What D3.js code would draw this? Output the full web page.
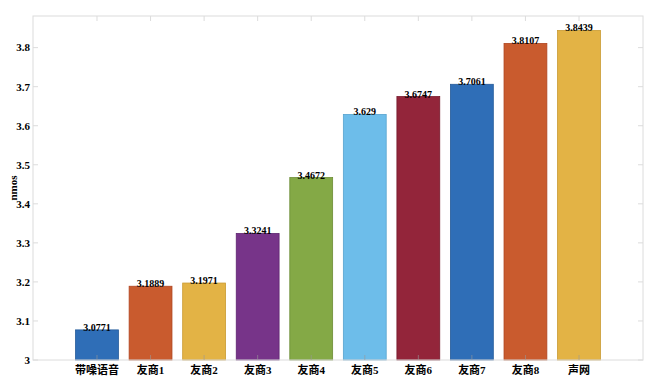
<html>
<head>
<script src="https://d3js.org/d3.v7.min.js"></script>
<style>
  body { margin: 0; background: #fff; }
  text { font-family: "Liberation Serif", "Noto Sans CJK SC", serif; font-weight: bold; }
</style>
<script>
window.onload = function () {
  var categories = ["带噪语音", "友商1", "友商2", "友商3", "友商4", "友商5", "友商6", "友商7", "友商8", "声网"]
  var values = [3.0771, 3.1889, 3.1971, 3.3241, 3.4672, 3.629, 3.6747, 3.7061, 3.8107, 3.8439]
  var labels = ["3.0771", "3.1889", "3.1971", "3.3241", "3.4672", "3.629", "3.6747", "3.7061", "3.8107", "3.8439"]
  var yTicks = [3, 3.1, 3.2, 3.3, 3.4, 3.5, 3.6, 3.7, 3.8]
  var colors = ["#2f6eb7", "#c95b2e", "#e3b345", "#773489", "#84a946", "#6dbdea", "#93253a", "#2f6eb7", "#c95b2e", "#e3b345"]
  var edges = ["#245a99", "#b04520", "#c99a30", "#5e2570", "#6b8c34", "#58a3cf", "#751a2c", "#245a99", "#b04520", "#c99a30"]

  var width = 650, height = 380
  var left = 33, right = 643, top = 16, bottom = 360

  var svg = d3.select("body").append("svg")
    .attr("width", width).attr("height", height)

  var x = d3.scaleLinear().domain([-0.195, 11.195]).range([left, right])
  var y = d3.scaleLinear().domain([3, 3.881]).range([bottom, top])
  var step = x(2) - x(1)
  var bw = step * 0.8

  // bars
  svg.selectAll("rect.bar").data(values).enter().append("rect")
    .attr("class", "bar")
    .attr("x", function (d, i) { return x(i + 1) - bw / 2 })
    .attr("y", function (d) { return y(d) })
    .attr("width", bw)
    .attr("height", function (d) { return bottom - y(d) })
    .attr("fill", function (d, i) { return colors[i] })
    .attr("stroke", function (d, i) { return edges[i] })
    .attr("stroke-width", 0.8)

  // box
  var axisColor = "#dcdcdc"
  svg.append("rect")
    .attr("x", left).attr("y", top)
    .attr("width", right - left).attr("height", bottom - top)
    .attr("fill", "none").attr("stroke", axisColor).attr("stroke-width", 1)

  // ticks inside, mirrored
  var tl = 5
  yTicks.forEach(function (t) {
    svg.append("line").attr("x1", left).attr("x2", left + tl)
      .attr("y1", y(t)).attr("y2", y(t)).attr("stroke", axisColor)
    svg.append("line").attr("x1", right).attr("x2", right - tl)
      .attr("y1", y(t)).attr("y2", y(t)).attr("stroke", axisColor)
  })
  categories.forEach(function (c, i) {
    svg.append("line").attr("x1", x(i + 1)).attr("x2", x(i + 1))
      .attr("y1", bottom).attr("y2", bottom - tl).attr("stroke", "#999").attr("stroke-opacity", 0.6)
    svg.append("line").attr("x1", x(i + 1)).attr("x2", x(i + 1))
      .attr("y1", top).attr("y2", top + tl).attr("stroke", axisColor)
  })

  // y tick labels
  svg.selectAll("text.ytick").data(yTicks).enter().append("text")
    .attr("class", "ytick")
    .attr("x", left - 3).attr("y", function (d) { return y(d) })
    .attr("dy", "0.35em")
    .attr("text-anchor", "end")
    .attr("font-size", "11px")
    .text(function (d) { return d3.format("")(d) })

  // x tick labels
  svg.selectAll("text.xtick").data(categories).enter().append("text")
    .attr("class", "xtick")
    .attr("x", function (d, i) { return x(i + 1) })
    .attr("y", bottom + 14)
    .attr("text-anchor", "middle")
    .attr("font-size", "11px")
    .text(function (d) { return d })

  // value labels
  svg.selectAll("text.val").data(values).enter().append("text")
    .attr("class", "val")
    .attr("x", function (d, i) { return x(i + 1) })
    .attr("y", function (d) { return y(d) + 1 })
    .attr("text-anchor", "middle")
    .attr("font-size", "10px")
    .text(function (d, i) { return labels[i] })

  // y label
  svg.append("text")
    .attr("transform", "translate(17," + ((top + bottom) / 2) + ") rotate(-90)")
    .attr("text-anchor", "middle")
    .attr("font-size", "11px")
    .text("nmos")
}
</script>
</head>
<body></body>
</html>
